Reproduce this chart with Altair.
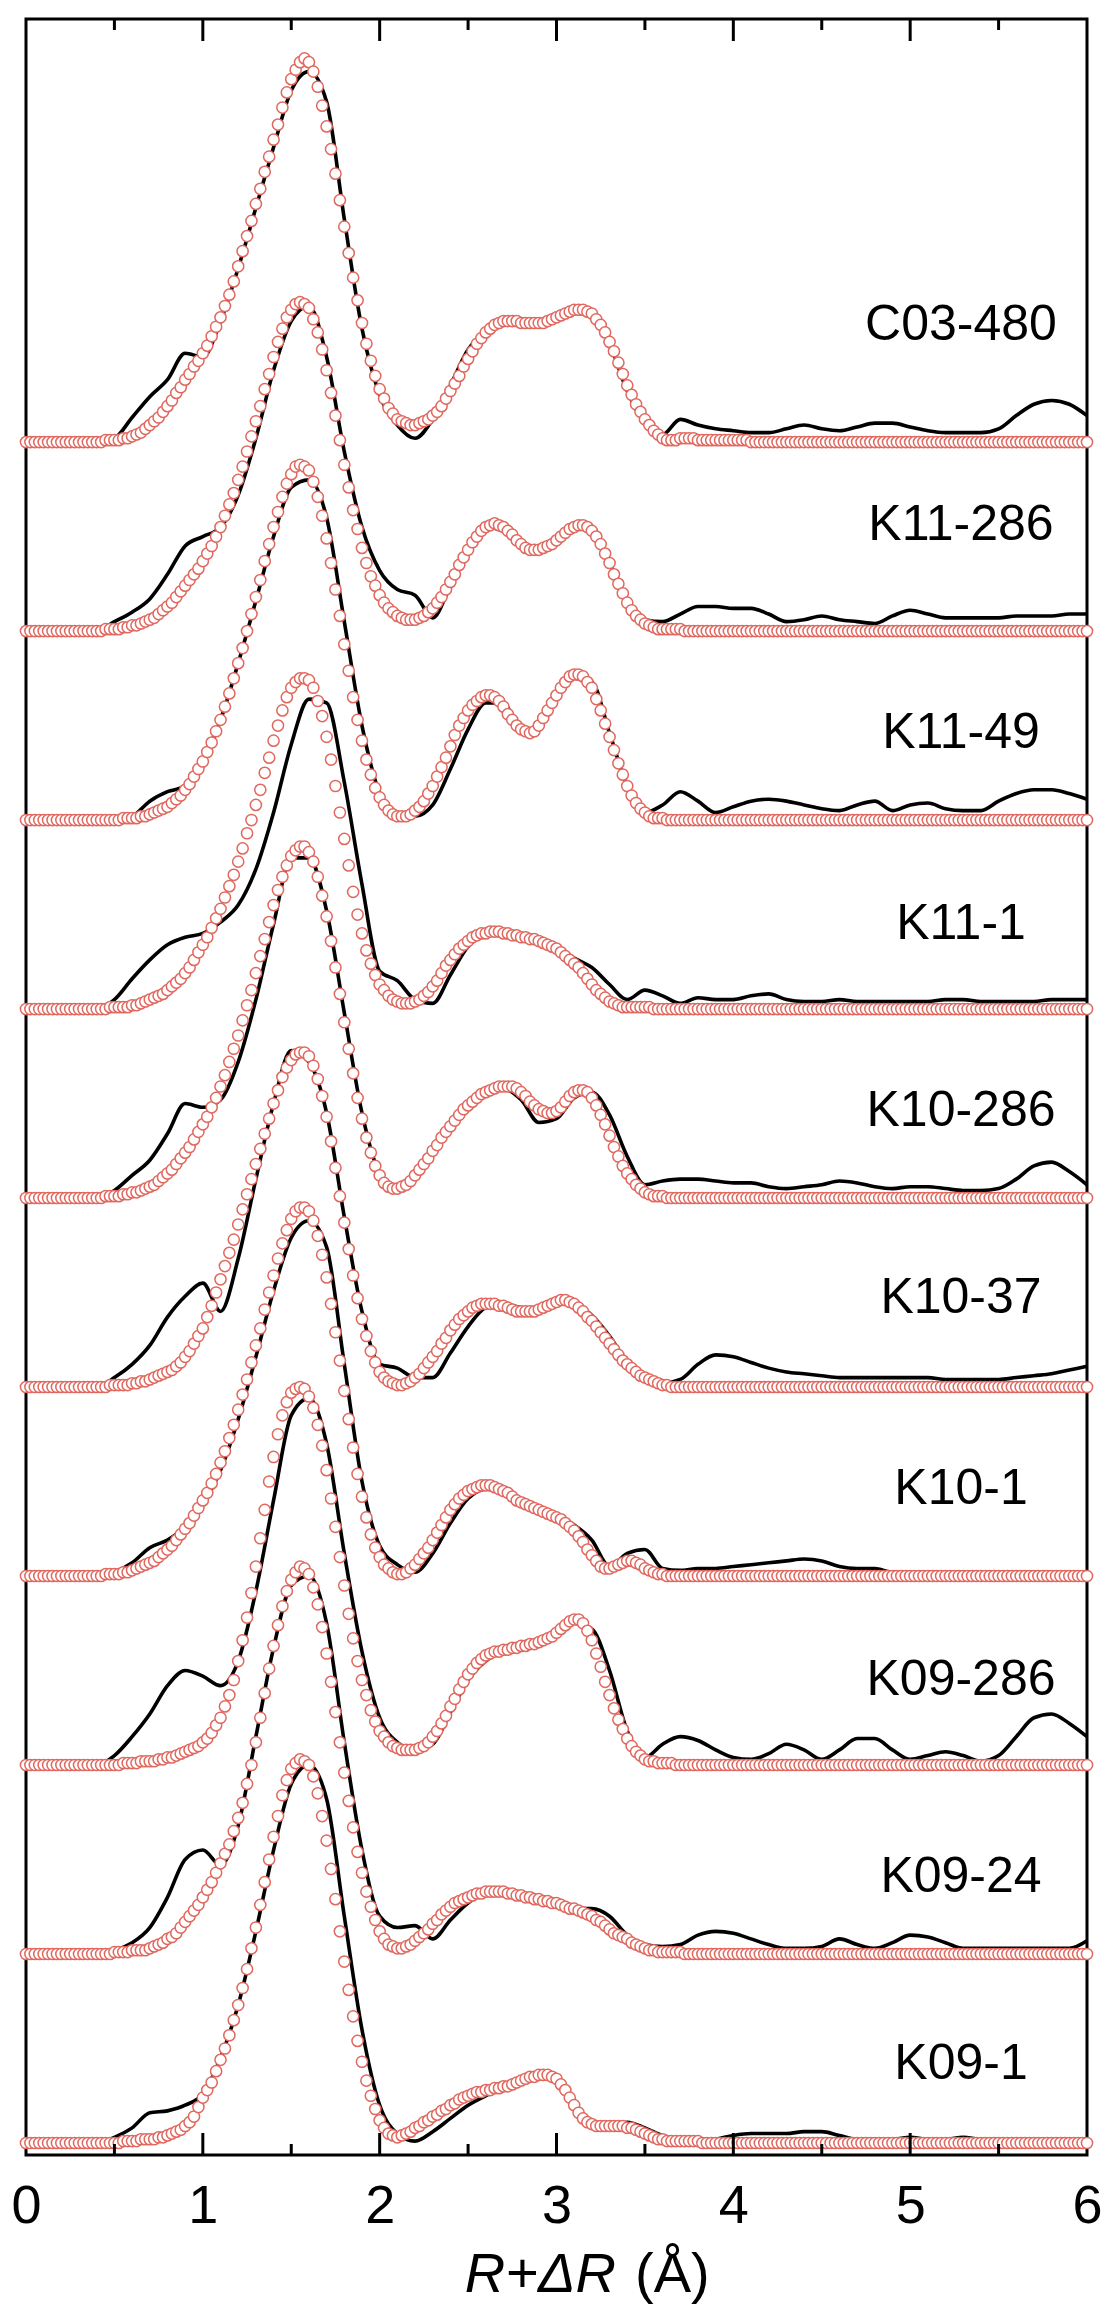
import altair as alt
import pandas as pd

# ---------------- data ----------------
names = ["C03-480", "K11-286", "K11-49", "K11-1", "K10-286",
         "K10-37", "K10-1", "K09-286", "K09-24", "K09-1"]

# Fit (open circles): heights above each curve's own baseline, in hundredths of
# one stacking step, sampled every 0.025 A from R = 0 to 6 (241 values).
FIT_STEP = 0.025
# Experimental |FT| (black line): heights in stacking steps, every 0.1 A (61 values).
DATA_STEP = 0.1

Z20 = [0, 0, 0, 0, 0, 0, 0, 0, 0, 0, 0, 0, 0, 0, 0, 0, 0, 0, 0, 0]

fit_c03_480 = (
    [0, 0, 0, 0, 0, 0, 0, 0, 0, 0, 0, 0, 0, 0, 0, 0, 0, 0, 1, 1]
    + [1, 1, 2, 2, 3, 4, 5, 7, 9, 11, 13, 16, 19, 22, 26, 29, 33, 36, 40, 43]
    + [47, 51, 56, 61, 66, 72, 78, 85, 93, 101, 109, 117, 126, 134, 143, 151, 160, 168, 177, 185]
    + [192, 197, 201, 203, 201, 196, 188, 178, 167, 155, 142, 128, 114, 100, 87, 75, 63, 52, 43, 35]
    + [28, 23, 18, 15, 12, 11, 10, 9, 9, 10, 11, 12, 14, 16, 19, 23, 27, 31, 35, 40]
    + [44, 48, 52, 55, 58, 60, 62, 63, 64, 64, 64, 64, 63, 63, 63, 63, 63, 63, 64, 65]
    + [66, 67, 68, 69, 70, 70, 70, 69, 68, 65, 62, 58, 53, 48, 42, 36, 30, 25, 20, 16]
    + [12, 9, 6, 4, 2, 1, 1, 1, 2, 2, 2, 2, 1, 1, 1, 1, 1, 1, 1, 1]
    + [1, 1, 1, 1, 0, 0, 0, 0, 0, 0, 0, 0, 0, 0, 0, 0, 0, 0, 0, 0]
    + Z20 + Z20 + Z20 + [0])
dat_c03_480 = [
    0, 0, 0, 0, 0, 0.02, 0.13, 0.24, 0.33, 0.47,
    0.45, 0.64, 0.92, 1.24, 1.56, 1.86, 1.96, 1.80, 1.18, 0.60,
    0.25, 0.09, 0.02, 0.12, 0.30, 0.49, 0.58, 0.62, 0.62, 0.62,
    0.65, 0.69, 0.67, 0.52, 0.27, 0.10, 0.04, 0.12, 0.09, 0.07,
    0.06, 0.05, 0.05, 0.07, 0.09, 0.07, 0.06, 0.08, 0.10, 0.10,
    0.08, 0.06, 0.05, 0.05, 0.05, 0.07, 0.14, 0.20, 0.22, 0.20,
    0.14]

fit_k11_286 = (
    [0, 0, 0, 0, 0, 0, 0, 0, 0, 0, 0, 0, 0, 0, 0, 0, 0, 0, 1, 1]
    + [1, 1, 2, 2, 3, 3, 4, 5, 6, 7, 9, 11, 13, 15, 18, 21, 24, 27, 30, 33]
    + [37, 41, 45, 50, 55, 61, 67, 73, 80, 87, 95, 103, 111, 119, 128, 136, 145, 153, 160, 166]
    + [170, 173, 174, 173, 171, 165, 158, 149, 138, 126, 114, 101, 88, 76, 64, 54, 44, 36, 29, 24]
    + [19, 15, 12, 10, 8, 7, 6, 6, 6, 7, 8, 10, 12, 15, 18, 22, 26, 30, 35, 39]
    + [43, 47, 50, 53, 55, 56, 57, 56, 55, 53, 51, 48, 46, 44, 43, 43, 43, 44, 45, 46]
    + [48, 50, 52, 54, 55, 56, 56, 55, 53, 50, 46, 41, 36, 30, 25, 20, 15, 11, 8, 6]
    + [4, 3, 2, 1, 1, 1, 1, 1, 1, 0, 0, 0, 0, 0, 0, 0, 0, 0, 0, 0]
    + Z20 + Z20 + Z20 + Z20 + [0])
dat_k11_286 = [
    0, 0, 0, 0, 0, 0.05, 0.10, 0.17, 0.30, 0.45,
    0.50, 0.55, 0.72, 1.02, 1.38, 1.64, 1.72, 1.45, 0.95, 0.55,
    0.32, 0.22, 0.19, 0.07, 0.24, 0.43, 0.55, 0.53, 0.45, 0.43,
    0.48, 0.55, 0.53, 0.36, 0.14, 0.06, 0.05, 0.09, 0.13, 0.13,
    0.12, 0.12, 0.09, 0.05, 0.06, 0.08, 0.06, 0.05, 0.04, 0.08,
    0.11, 0.09, 0.07, 0.07, 0.07, 0.07, 0.08, 0.08, 0.08, 0.09,
    0.09]

fit_k11_49 = (
    Z20
    + [0, 0, 1, 1, 1, 1, 2, 2, 3, 4, 5, 6, 7, 9, 11, 13, 16, 19, 23, 27]
    + [31, 36, 41, 47, 53, 60, 67, 75, 83, 91, 100, 109, 118, 127, 137, 146, 155, 163, 171, 178]
    + [183, 187, 188, 187, 185, 179, 171, 161, 149, 136, 122, 108, 93, 79, 65, 53, 42, 32, 24, 17]
    + [12, 8, 5, 3, 2, 2, 2, 3, 5, 7, 10, 14, 18, 23, 28, 33, 39, 45, 50, 54]
    + [58, 61, 63, 65, 66, 66, 65, 63, 60, 56, 53, 50, 48, 47, 46, 47, 50, 54, 58, 62]
    + [66, 70, 73, 76, 77, 77, 76, 73, 70, 64, 58, 51, 44, 37, 30, 24, 18, 13, 9, 6]
    + [4, 2, 1, 1, 1, 0, 0, 0, 0, 0, 0, 0, 0, 0, 0, 0, 0, 0, 0, 0]
    + Z20 + Z20 + Z20 + Z20 + [0])
dat_k11_49 = [
    0, 0, 0, 0, 0, 0, 0.02, 0.10, 0.15, 0.18,
    0.31, 0.53, 0.83, 1.16, 1.50, 1.76, 1.80, 1.60, 1.05, 0.50,
    0.14, 0.02, 0.02, 0.08, 0.27, 0.48, 0.62, 0.62, 0.47, 0.49,
    0.65, 0.75, 0.73, 0.46, 0.18, 0.04, 0.08, 0.15, 0.10, 0.04,
    0.07, 0.10, 0.11, 0.10, 0.08, 0.06, 0.05, 0.08, 0.10, 0.05,
    0.08, 0.09, 0.06, 0.05, 0.05, 0.10, 0.14, 0.16, 0.16, 0.14,
    0.11]

fit_k11_1 = (
    [0, 0, 0, 0, 0, 0, 0, 0, 0, 0, 0, 0, 0, 0, 0, 0, 0, 0, 0, 1]
    + [1, 1, 1, 1, 2, 2, 3, 4, 5, 6, 7, 8, 10, 12, 14, 16, 19, 22, 26, 30]
    + [34, 38, 43, 48, 53, 59, 65, 71, 78, 85, 93, 100, 108, 116, 125, 133, 142, 150, 158, 165]
    + [170, 173, 175, 175, 174, 170, 163, 155, 144, 132, 118, 104, 90, 76, 62, 50, 40, 31, 24, 18]
    + [13, 10, 7, 5, 4, 3, 3, 3, 4, 5, 7, 9, 12, 15, 19, 23, 26, 29, 32, 34]
    + [36, 38, 39, 40, 40, 41, 41, 41, 40, 40, 39, 39, 38, 38, 37, 37, 36, 35, 34, 33]
    + [32, 30, 28, 26, 24, 22, 19, 16, 13, 10, 8, 6, 4, 3, 2, 1, 1, 1, 1, 1]
    + [1, 1, 0, 0, 0, 0, 0, 0, 0, 0, 0, 0, 0, 0, 0, 0, 0, 0, 0, 0]
    + Z20 + Z20 + Z20 + Z20 + [0])
dat_k11_1 = [
    0, 0, 0, 0, 0, 0.05, 0.16, 0.26, 0.34, 0.38,
    0.40, 0.46, 0.55, 0.74, 1.04, 1.40, 1.64, 1.62, 1.20, 0.66,
    0.20, 0.15, 0.05, 0.03, 0.18, 0.33, 0.39, 0.40, 0.39, 0.37,
    0.33, 0.27, 0.22, 0.13, 0.05, 0.10, 0.07, 0.03, 0.06, 0.05,
    0.05, 0.07, 0.08, 0.05, 0.04, 0.04, 0.05, 0.04, 0.04, 0.04,
    0.04, 0.04, 0.05, 0.05, 0.04, 0.04, 0.04, 0.04, 0.05, 0.05,
    0.05]

fit_k10_286 = (
    [0, 0, 0, 0, 0, 0, 0, 0, 0, 0, 0, 0, 0, 0, 0, 0, 0, 0, 1, 1]
    + [1, 1, 2, 2, 3, 3, 4, 5, 6, 7, 9, 11, 13, 15, 18, 21, 24, 27, 31, 35]
    + [39, 43, 48, 53, 59, 65, 72, 79, 86, 94, 102, 110, 119, 128, 137, 146, 155, 163, 170, 176]
    + [181, 184, 186, 186, 183, 178, 170, 160, 149, 136, 122, 108, 93, 79, 66, 53, 42, 32, 24, 17]
    + [12, 8, 6, 5, 5, 6, 7, 9, 12, 15, 18, 21, 25, 28, 32, 35, 38, 41, 44, 47]
    + [49, 51, 53, 55, 56, 57, 58, 59, 59, 59, 59, 58, 56, 54, 51, 49, 47, 46, 45, 45]
    + [46, 48, 51, 54, 56, 57, 57, 56, 53, 49, 44, 39, 33, 27, 22, 17, 13, 10, 7, 5]
    + [3, 2, 1, 1, 1, 0, 0, 0, 0, 0, 0, 0, 0, 0, 0, 0, 0, 0, 0, 0]
    + Z20 + Z20 + Z20 + Z20 + [0])
dat_k10_286 = [
    0, 0, 0, 0, 0, 0.04, 0.12, 0.20, 0.34, 0.50,
    0.48, 0.52, 0.72, 1.05, 1.45, 1.80, 1.80, 1.52, 0.98, 0.45,
    0.13, 0.05, 0.10, 0.25, 0.40, 0.50, 0.56, 0.58, 0.52, 0.40,
    0.42, 0.53, 0.56, 0.44, 0.22, 0.07, 0.09, 0.10, 0.10, 0.09,
    0.08, 0.08, 0.06, 0.05, 0.06, 0.07, 0.09, 0.08, 0.06, 0.05,
    0.06, 0.06, 0.05, 0.04, 0.04, 0.05, 0.10, 0.17, 0.19, 0.14,
    0.07]

fit_k10_37 = (
    [0, 0, 0, 0, 0, 0, 0, 0, 0, 0, 0, 0, 0, 0, 0, 0, 0, 0, 0, 1]
    + [1, 1, 1, 1, 2, 2, 3, 3, 4, 5, 6, 7, 8, 9, 11, 13, 16, 19, 23, 27]
    + [31, 37, 43, 50, 57, 64, 71, 78, 86, 94, 102, 110, 118, 126, 134, 142, 150, 157, 164, 169]
    + [173, 176, 177, 177, 175, 170, 163, 154, 143, 130, 116, 101, 87, 73, 59, 47, 36, 27, 19, 13]
    + [8, 5, 3, 2, 1, 1, 2, 3, 5, 7, 10, 13, 16, 19, 23, 26, 30, 33, 36, 38]
    + [40, 42, 43, 44, 44, 44, 44, 43, 43, 42, 41, 40, 40, 40, 40, 40, 41, 42, 43, 44]
    + [45, 46, 46, 45, 44, 42, 40, 37, 35, 32, 29, 26, 23, 20, 17, 14, 12, 10, 8, 6]
    + [5, 4, 3, 2, 1, 1, 0, 0, 0, 0, 0, 0, 0, 0, 0, 0, 0, 0, 0, 0]
    + Z20 + Z20 + Z20 + Z20 + [0])
dat_k10_37 = [
    0, 0, 0, 0, 0, 0.05, 0.12, 0.22, 0.37, 0.48,
    0.55, 0.40, 0.68, 1.10, 1.50, 1.78, 1.72, 1.45, 0.90, 0.40,
    0.12, 0.10, 0.05, 0.05, 0.18, 0.32, 0.42, 0.44, 0.42, 0.41,
    0.45, 0.44, 0.38, 0.27, 0.13, 0.05, 0.02, 0.04, 0.12, 0.17,
    0.16, 0.13, 0.10, 0.08, 0.07, 0.06, 0.05, 0.05, 0.05, 0.05,
    0.05, 0.05, 0.04, 0.04, 0.04, 0.04, 0.05, 0.06, 0.07, 0.09,
    0.11]

fit_k10_1 = (
    [0, 0, 0, 0, 0, 0, 0, 0, 0, 0, 0, 0, 0, 0, 0, 0, 0, 0, 1, 1]
    + [1, 1, 2, 2, 3, 4, 5, 6, 7, 8, 10, 12, 14, 16, 19, 22, 25, 28, 32, 36]
    + [40, 44, 49, 54, 60, 66, 73, 80, 88, 96, 104, 113, 122, 131, 141, 150, 159, 168, 176, 183]
    + [189, 193, 195, 195, 193, 188, 180, 170, 158, 144, 129, 114, 98, 83, 68, 54, 42, 31, 22, 15]
    + [10, 6, 4, 2, 1, 1, 2, 4, 6, 9, 12, 15, 19, 23, 27, 31, 35, 38, 41, 43]
    + [45, 46, 47, 48, 48, 48, 47, 46, 45, 44, 42, 40, 39, 38, 37, 36, 35, 34, 33, 32]
    + [31, 30, 28, 26, 24, 21, 18, 14, 11, 8, 5, 4, 4, 5, 6, 7, 8, 8, 7, 6]
    + [4, 3, 2, 1, 1, 0, 0, 0, 0, 0, 0, 0, 0, 0, 0, 0, 0, 0, 0, 0]
    + Z20 + Z20 + Z20 + Z20 + [0])
dat_k10_1 = [
    0, 0, 0, 0, 0, 0.02, 0.07, 0.15, 0.19, 0.26,
    0.38, 0.56, 0.83, 1.16, 1.51, 1.79, 1.88, 1.74, 1.12, 0.50,
    0.16, 0.06, 0.02, 0.12, 0.28, 0.41, 0.46, 0.45, 0.39, 0.35,
    0.32, 0.27, 0.19, 0.05, 0.12, 0.14, 0.04, 0.03, 0.04, 0.04,
    0.05, 0.06, 0.07, 0.08, 0.09, 0.08, 0.05, 0.04, 0.04, 0.02,
    0.02, 0.02, 0.02, 0.02, 0.02, 0.02, 0.02, 0.02, 0.02, 0.02,
    0.02]

fit_k09_286 = (
    Z20
    + [0, 0, 1, 1, 1, 1, 2, 2, 2, 2, 3, 3, 4, 4, 5, 6, 7, 8, 9, 10]
    + [12, 14, 17, 21, 25, 31, 37, 45, 55, 66, 78, 91, 105, 120, 135, 150, 163, 175, 185, 192]
    + [197, 199, 200, 199, 195, 189, 180, 169, 156, 141, 126, 110, 95, 80, 67, 55, 45, 37, 29, 23]
    + [18, 15, 12, 10, 9, 8, 8, 8, 8, 9, 10, 12, 15, 18, 22, 26, 31, 35, 40, 44]
    + [48, 51, 54, 56, 58, 59, 60, 60, 61, 61, 62, 62, 63, 63, 64, 64, 65, 66, 67, 68]
    + [70, 72, 74, 76, 77, 77, 75, 71, 66, 59, 52, 44, 37, 30, 24, 19, 14, 10, 7, 5]
    + [3, 2, 2, 1, 1, 1, 1, 0, 0, 0, 0, 0, 0, 0, 0, 0, 0, 0, 0, 0]
    + Z20 + Z20 + Z20 + Z20 + [0])
dat_k09_286 = [
    0, 0, 0, 0, 0, 0.05, 0.15, 0.27, 0.42, 0.50,
    0.47, 0.42, 0.55, 0.92, 1.40, 1.85, 1.94, 1.70, 1.12, 0.60,
    0.25, 0.12, 0.08, 0.11, 0.28, 0.45, 0.55, 0.60, 0.62, 0.64,
    0.69, 0.75, 0.72, 0.50, 0.18, 0.04, 0.11, 0.15, 0.13, 0.08,
    0.04, 0.03, 0.06, 0.11, 0.08, 0.03, 0.08, 0.14, 0.14, 0.08,
    0.03, 0.05, 0.07, 0.05, 0.02, 0.05, 0.15, 0.25, 0.27, 0.22,
    0.15]

fit_k09_24 = (
    Z20
    + [1, 1, 1, 1, 2, 2, 2, 2, 3, 4, 5, 6, 8, 9, 11, 14, 17, 20, 23, 26]
    + [30, 34, 38, 43, 48, 53, 58, 65, 72, 80, 90, 100, 112, 125, 138, 151, 163, 174, 184, 192]
    + [198, 202, 205, 204, 201, 194, 185, 173, 159, 144, 128, 112, 96, 81, 67, 54, 43, 33, 25, 18]
    + [12, 8, 5, 4, 3, 3, 4, 5, 7, 9, 11, 13, 16, 18, 21, 23, 25, 27, 28, 29]
    + [30, 31, 32, 32, 33, 33, 33, 33, 33, 32, 32, 31, 31, 30, 30, 29, 29, 28, 28, 27]
    + [27, 26, 25, 24, 24, 23, 22, 21, 20, 18, 17, 15, 13, 11, 10, 9, 8, 6, 5, 4]
    + [3, 2, 2, 1, 1, 1, 1, 1, 1, 0, 0, 0, 0, 0, 0, 0, 0, 0, 0, 0]
    + Z20 + Z20 + Z20 + Z20 + [0])
dat_k09_24 = [
    0, 0, 0, 0, 0, 0.02, 0.06, 0.14, 0.30, 0.50,
    0.55, 0.47, 0.68, 1.15, 1.62, 1.95, 2.00, 1.75, 1.12, 0.55,
    0.20, 0.14, 0.15, 0.08, 0.18, 0.27, 0.32, 0.32, 0.30, 0.28,
    0.26, 0.24, 0.24, 0.20, 0.10, 0.05, 0.04, 0.05, 0.10, 0.12,
    0.11, 0.08, 0.05, 0.03, 0.03, 0.04, 0.08, 0.05, 0.03, 0.06,
    0.10, 0.09, 0.06, 0.03, 0.03, 0.03, 0.03, 0.03, 0.03, 0.03,
    0.07]

fit_k09_1 = (
    Z20
    + [0, 0, 1, 1, 1, 1, 2, 2, 2, 2, 3, 3, 4, 5, 6, 7, 9, 11, 14, 19]
    + [24, 28, 32, 38, 44, 50, 57, 65, 73, 82, 92, 103, 114, 126, 138, 150, 162, 173, 184, 192]
    + [198, 201, 203, 202, 200, 194, 185, 173, 160, 145, 129, 112, 96, 81, 67, 54, 43, 33, 25, 18]
    + [12, 8, 5, 4, 3, 4, 5, 6, 8, 9, 11, 12, 14, 15, 17, 18, 20, 21, 23, 24]
    + [25, 26, 27, 27, 28, 28, 29, 29, 30, 30, 31, 32, 33, 34, 35, 35, 36, 36, 36, 35]
    + [34, 31, 28, 24, 20, 16, 13, 11, 10, 9, 9, 9, 9, 9, 9, 9, 8, 8, 7, 6]
    + [5, 4, 3, 2, 2, 1, 1, 1, 1, 1, 1, 1, 1, 0, 0, 0, 0, 0, 0, 0]
    + Z20 + Z20 + Z20 + Z20 + [0])
dat_k09_1 = [
    0, 0, 0, 0, 0, 0.03, 0.08, 0.16, 0.17, 0.20,
    0.26, 0.45, 0.73, 1.12, 1.55, 1.90, 2.00, 1.82, 1.20, 0.60,
    0.20, 0.05, 0.01, 0.06, 0.13, 0.20, 0.25, 0.29, 0.31, 0.35,
    0.34, 0.20, 0.10, 0.09, 0.11, 0.08, 0.04, 0.02, 0.01, 0.02,
    0.04, 0.05, 0.05, 0.05, 0.06, 0.06, 0.04, 0.02, 0.02, 0.02,
    0.03, 0.02, 0.02, 0.03, 0.02, 0.02, 0.02, 0.02, 0.02, 0.02,
    0.02]

fits = [fit_c03_480, fit_k11_286, fit_k11_49, fit_k11_1, fit_k10_286,
        fit_k10_37, fit_k10_1, fit_k09_286, fit_k09_24, fit_k09_1]
dats = [dat_c03_480, dat_k11_286, dat_k11_49, dat_k11_1, dat_k10_286,
        dat_k10_37, dat_k10_1, dat_k09_286, dat_k09_24, dat_k09_1]

# label height above each curve's baseline (stacking steps)
label_rise = [0.62, 0.56, 0.46, 0.45, 0.46, 0.47, 0.46, 0.45, 0.41, 0.42]

x_ticks = [0, 1, 2, 3, 4, 5, 6]
major_inner = [1, 2, 3, 4, 5]
minor_inner = [0.5, 1.5, 2.5, 3.5, 4.5, 5.5]

# ---------------- tables ----------------
n = len(names)
fit_rows, dat_rows, lab_rows = [], [], []
for k, name in enumerate(names):
    off = n - 1 - k
    f, d = fits[k], dats[k]
    assert len(f) == 241, (name, len(f))
    assert len(d) == 61, (name, len(d))
    for i, v in enumerate(f):
        fit_rows.append({"r": round(i * FIT_STEP, 4), "y": off + v / 100.0, "s": name})
    for i, v in enumerate(d):
        dat_rows.append({"r": round(i * DATA_STEP, 4), "y": off + v, "s": name})
    lab_rows.append({"s": name, "y": off + label_rise[k]})

df_fit = pd.DataFrame(fit_rows)
df_dat = pd.DataFrame(dat_rows)
df_lab = pd.DataFrame(lab_rows)
df_major = pd.DataFrame({"t": major_inner})
df_minor = pd.DataFrame({"t": minor_inner})

# ---------------- layout ----------------
W, H = 1061, 2136
FONT = "Liberation Sans"
RED = "#e0685f"

xs = alt.Scale(domain=[0, 6], nice=False, zero=False)
ys = alt.Scale(domain=[-0.0635, 11.2385], nice=False, zero=False)
xaxis = alt.Axis(values=x_ticks, format="d", labelFontSize=54, labelFont=FONT,
                 labelColor="black", labelPadding=24, tickSize=0, domain=False,
                 grid=False, title=None, labelFlush=False)

X = alt.X("r:Q", scale=xs, axis=xaxis)
Y = alt.Y("y:Q", scale=ys, axis=None)

lines = alt.Chart(df_dat).mark_line(color="black", strokeWidth=3.6,
                                     interpolate="monotone").encode(
    x=X, y=Y, detail="s:N")

circles = alt.Chart(df_fit).mark_circle(size=125, color="white", opacity=1,
                                         stroke=RED, strokeWidth=1.5).encode(
    x=X, y=Y, detail="s:N")

labels = alt.Chart(df_lab).mark_text(font=FONT, fontSize=50, color="black",
                                      align="center", baseline="middle").encode(
    x=alt.value(935), y=alt.Y("y:Q", scale=ys, axis=None), text="s:N")

TX = alt.X("t:Q", scale=xs, axis=xaxis)
top_major = alt.Chart(df_major).mark_rule(color="black", strokeWidth=3).encode(
    x=TX, y=alt.value(0), y2=alt.value(22))
top_minor = alt.Chart(df_minor).mark_rule(color="black", strokeWidth=3).encode(
    x=TX, y=alt.value(0), y2=alt.value(11))
bot_major = alt.Chart(df_major).mark_rule(color="black", strokeWidth=3).encode(
    x=TX, y=alt.value(H - 22), y2=alt.value(H))
bot_minor = alt.Chart(df_minor).mark_rule(color="black", strokeWidth=3).encode(
    x=TX, y=alt.value(H - 11), y2=alt.value(H))

title_a = alt.Chart(pd.DataFrame({"t": ["R+ΔR"]})).mark_text(
    font=FONT, fontSize=56, fontStyle="italic", color="black",
    align="right", baseline="alphabetic").encode(
    x=alt.value(590), y=alt.value(2273), text="t:N")
title_b = alt.Chart(pd.DataFrame({"t": ["(Å)"]})).mark_text(
    font=FONT, fontSize=56, color="black",
    align="left", baseline="alphabetic").encode(
    x=alt.value(609), y=alt.value(2273), text="t:N")

chart = alt.layer(lines, circles, labels, top_major, top_minor, bot_major,
                  bot_minor, title_a, title_b).properties(
    width=W, height=H,
    padding={"left": 26, "top": 19, "right": 19, "bottom": 151},
    autosize=alt.AutoSizeParams(type="none"),
    background="white",
).configure_view(stroke="black", strokeWidth=3)

chart.save("out.html", embed_options={"renderer": "svg", "actions": False})
